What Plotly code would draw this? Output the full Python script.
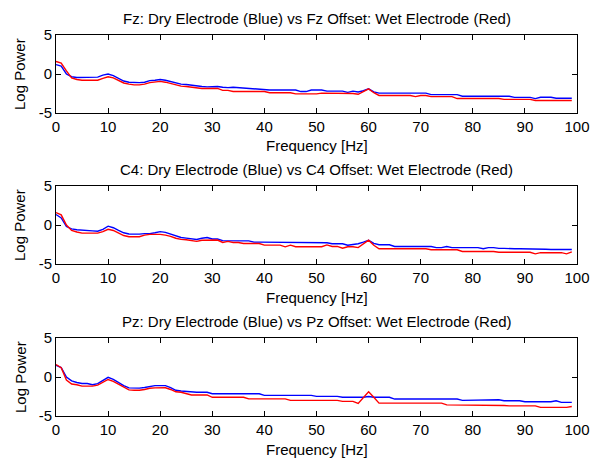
import plotly.graph_objects as go

freq = list(range(100))

fz_dry = [1.2, 1.0, 0.0, -0.35, -0.45, -0.45, -0.45, -0.45, -0.4, -0.15,
          0.0, -0.2, -0.6, -0.9, -1.05, -1.1, -1.1, -1.05, -0.85, -0.8,
          -0.7, -0.8, -1.0, -1.15, -1.3, -1.35, -1.45, -1.55, -1.6, -1.65,
          -1.65, -1.6, -1.7, -1.75, -1.7, -1.75, -1.85, -1.9, -1.9, -1.95,
          -2.0, -2.05, -2.05, -2.05, -2.05, -2.05, -2.05, -2.25, -2.25, -2.05,
          -2.05, -2.05, -2.2, -2.2, -2.2, -2.2, -2.35, -2.2, -2.3, -2.15,
          -1.9, -2.3, -2.45, -2.45, -2.45, -2.45, -2.45, -2.45, -2.45, -2.45,
          -2.45, -2.45, -2.65, -2.65, -2.65, -2.65, -2.65, -2.65, -2.85, -2.85,
          -2.85, -2.85, -2.85, -2.85, -2.85, -2.85, -2.85, -2.85, -3.0, -3.0,
          -3.0, -3.0, -3.15, -2.98, -2.98, -2.98, -3.1, -3.1, -3.1, -3.1]
fz_wet = [1.6, 1.4, 0.4, -0.5, -0.7, -0.8, -0.8, -0.8, -0.8, -0.55,
          -0.35, -0.5, -0.85, -1.15, -1.3, -1.4, -1.4, -1.3, -1.1, -1.05,
          -0.95, -1.05, -1.25, -1.45, -1.55, -1.6, -1.7, -1.8, -1.85, -1.85,
          -1.85, -1.85, -2.1, -2.1, -2.25, -2.25, -2.25, -2.25, -2.25, -2.25,
          -2.25, -2.4, -2.4, -2.4, -2.4, -2.4, -2.55, -2.55, -2.55, -2.55,
          -2.55, -2.45, -2.45, -2.45, -2.45, -2.45, -2.45, -2.5, -2.6, -2.3,
          -1.9, -2.4, -2.75, -2.75, -2.75, -2.75, -2.75, -2.75, -2.75, -2.9,
          -2.75, -2.75, -2.9, -2.9, -2.9, -2.9, -2.9, -3.15, -3.15, -3.15,
          -3.15, -3.15, -3.15, -3.15, -3.15, -3.15, -3.25, -3.25, -3.25, -3.25,
          -3.25, -3.25, -3.4, -3.4, -3.4, -3.4, -3.4, -3.4, -3.4, -3.4]

c4_dry = [1.35, 0.9, -0.2, -0.5, -0.6, -0.62, -0.65, -0.75, -0.8, -0.55,
          -0.15, -0.35, -0.7, -1.0, -1.15, -1.17, -1.17, -1.1, -1.1, -1.0,
          -0.85, -0.95, -1.15, -1.35, -1.6, -1.68, -1.75, -1.85, -1.7, -1.6,
          -1.8, -1.8, -2.0, -2.03, -2.03, -2.03, -2.03, -2.03, -2.2, -2.2,
          -2.2, -2.2, -2.2, -2.2, -2.28, -2.28, -2.28, -2.28, -2.28, -2.28,
          -2.28, -2.28, -2.28, -2.41, -2.41, -2.41, -2.6, -2.5, -2.4, -2.2,
          -1.95, -2.35, -2.53, -2.53, -2.53, -2.75, -2.75, -2.75, -2.75, -2.75,
          -2.75, -2.75, -2.75, -2.9, -2.9, -2.75, -2.9, -2.9, -2.9, -2.9,
          -2.9, -2.9, -3.05, -2.9, -2.9, -3.0, -3.0, -3.05, -3.05, -3.05,
          -3.05, -3.05, -3.1, -3.1, -3.1, -3.15, -3.15, -3.15, -3.15, -3.15]
c4_wet = [1.6, 1.3, 0.0, -0.7, -0.9, -1.04, -1.04, -1.04, -1.04, -0.85,
          -0.55, -0.7, -1.05, -1.35, -1.5, -1.5, -1.5, -1.3, -1.2, -1.2,
          -1.2, -1.3, -1.45, -1.7, -1.85, -1.9, -2.0, -2.1, -1.95, -1.93,
          -1.93, -1.93, -2.24, -2.1, -2.24, -2.24, -2.37, -2.37, -2.37, -2.37,
          -2.58, -2.58, -2.58, -2.58, -2.8, -2.58, -2.79, -2.79, -2.79, -2.79,
          -2.79, -2.79, -2.55, -2.75, -2.75, -2.97, -2.79, -2.79, -2.9, -2.4,
          -1.95, -2.6, -3.05, -3.05, -3.05, -3.05, -3.05, -3.05, -3.05, -3.05,
          -3.05, -3.05, -3.17, -3.17, -3.17, -3.17, -3.17, -3.17, -3.39, -3.39,
          -3.39, -3.39, -3.39, -3.39, -3.39, -3.5, -3.5, -3.5, -3.5, -3.5,
          -3.5, -3.5, -3.7, -3.55, -3.55, -3.55, -3.55, -3.55, -3.7, -3.45]

pz_dry = [1.5, 1.2, 0.0, -0.5, -0.7, -0.84, -0.84, -1.0, -0.85, -0.5,
          -0.05, -0.3, -0.75, -1.1, -1.4, -1.43, -1.43, -1.35, -1.2, -1.1,
          -1.1, -1.1, -1.35, -1.7, -1.8, -1.85, -1.95, -1.95, -1.95, -1.95,
          -2.15, -2.15, -2.15, -2.15, -2.15, -2.15, -2.15, -2.15, -2.15, -2.15,
          -2.35, -2.35, -2.35, -2.35, -2.35, -2.35, -2.35, -2.35, -2.35, -2.35,
          -2.48, -2.48, -2.48, -2.48, -2.48, -2.6, -2.6, -2.6, -2.6, -2.6,
          -2.5, -2.6, -2.6, -2.6, -2.6, -2.83, -2.83, -2.83, -2.83, -2.83,
          -2.83, -2.83, -2.83, -2.83, -2.83, -2.83, -2.83, -2.83, -3.0, -3.0,
          -3.0, -3.0, -3.0, -3.0, -3.0, -2.92, -3.04, -3.04, -3.04, -3.04,
          -3.17, -3.17, -3.17, -3.17, -3.17, -3.17, -3.05, -3.25, -3.25, -3.25]
pz_wet = [1.6, 1.2, -0.4, -0.9, -1.0, -1.17, -1.17, -1.17, -1.05, -0.7,
          -0.32, -0.55, -0.95, -1.3, -1.65, -1.7, -1.7, -1.6, -1.45, -1.4,
          -1.38, -1.38, -1.6, -1.9, -1.95, -2.1, -2.3, -2.3, -2.3, -2.3,
          -2.6, -2.6, -2.6, -2.6, -2.6, -2.6, -2.6, -2.8, -2.8, -2.8,
          -2.8, -2.8, -2.8, -2.8, -2.8, -3.0, -3.0, -3.0, -3.0, -3.0,
          -3.0, -3.0, -3.0, -3.0, -3.0, -3.13, -3.13, -3.13, -3.39, -2.6,
          -1.9, -2.6, -3.35, -3.35, -3.35, -3.35, -3.35, -3.35, -3.35, -3.35,
          -3.35, -3.35, -3.35, -3.35, -3.35, -3.57, -3.57, -3.57, -3.57, -3.57,
          -3.65, -3.65, -3.65, -3.65, -3.65, -3.65, -3.65, -3.7, -3.7, -3.7,
          -3.7, -3.7, -3.7, -3.9, -3.9, -3.9, -3.9, -3.9, -3.9, -3.78]

titles = ["Fz: Dry Electrode (Blue) vs Fz Offset: Wet Electrode (Red)",
          "C4: Dry Electrode (Blue) vs C4 Offset: Wet Electrode (Red)",
          "Pz: Dry Electrode (Blue) vs Pz Offset: Wet Electrode (Red)"]
x_ticks = [0, 10, 20, 30, 40, 50, 60, 70, 80, 90, 100]
y_ticks = [-5, 0, 5]
y_tick_text = ["-5", "0", "5"]

series = [(fz_dry, fz_wet), (c4_dry, c4_wet), (pz_dry, pz_wet)]

W, H = 602, 460
box_x = (56, 577)
box_y = [(35, 113), (186, 264), (338, 416)]
FONT = "Liberation Sans, Arial, sans-serif"
FS = 15

fig = go.Figure()
layout = dict(template="none", width=W, height=H, margin=dict(l=0, r=0, t=0, b=0, pad=0),
              paper_bgcolor="white", plot_bgcolor="white", showlegend=False, hovermode=False,
              font=dict(family=FONT, size=FS, color="black"))
annotations = []
for i, (dry, wet) in enumerate(series):
    n = "" if i == 0 else str(i + 1)
    fig.add_trace(go.Scatter(x=freq, y=dry, mode="lines", xaxis="x" + n, yaxis="y" + n,
                             line=dict(color="#0000ff", width=1.4)))
    fig.add_trace(go.Scatter(x=freq, y=wet, mode="lines", xaxis="x" + n, yaxis="y" + n,
                             line=dict(color="#ff0000", width=1.4)))
    top, bot = box_y[i]
    common = dict(showline=True, linecolor="black", linewidth=1, mirror="ticks",
                  ticks="inside", ticklen=5, tickwidth=1, tickcolor="black", automargin=False,
                  showgrid=False, zeroline=False, tickfont=dict(family=FONT, size=FS, color="black"))
    layout["xaxis" + n] = dict(domain=[box_x[0] / W, box_x[1] / W], range=[0, 100],
                               tickvals=x_ticks, anchor="y" + n, **common)
    layout["yaxis" + n] = dict(domain=[1 - bot / H, 1 - top / H], range=[-5, 5],
                               tickvals=y_ticks, ticktext=y_tick_text, anchor="x" + n, **common)
    cx = (box_x[0] + box_x[1]) / 2 / W
    annotations.append(dict(text=titles[i], x=cx, y=1 - (top - 17) / H, xref="paper", yref="paper",
                            showarrow=False, xanchor="center", yanchor="middle",
                            font=dict(family=FONT, size=FS)))
    annotations.append(dict(text="Frequency [Hz]", x=cx, y=1 - (bot + 33) / H, xref="paper", yref="paper",
                            showarrow=False, xanchor="center", yanchor="middle",
                            font=dict(family=FONT, size=FS)))
    annotations.append(dict(text="Log Power", x=20 / W, y=1 - (top + bot) / 2 / H, xref="paper", yref="paper",
                            showarrow=False, xanchor="center", yanchor="middle", textangle=-90,
                            font=dict(family=FONT, size=FS)))
layout["annotations"] = annotations
fig.update_layout(**layout)
fig.write_html("out.html", config={"displayModeBar": False, "staticPlot": True},
               post_script="document.body.style.margin='0';document.body.style.overflow='hidden';")
